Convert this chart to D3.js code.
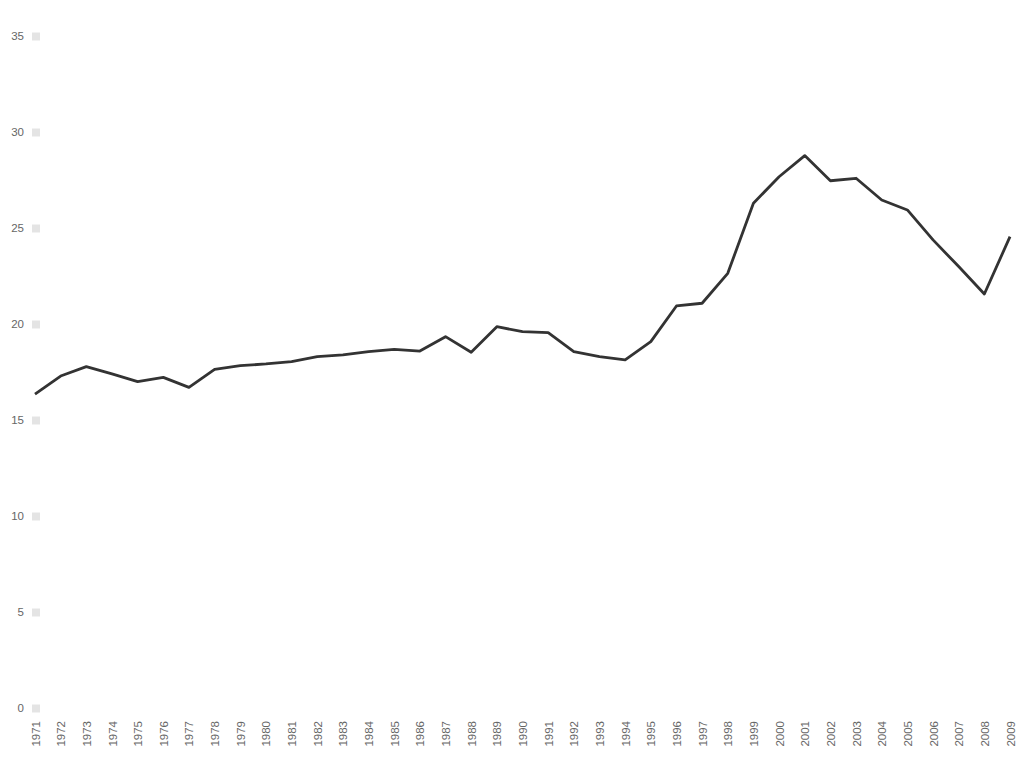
<!DOCTYPE html>
<html lang="en">
<head>
  <meta charset="UTF-8" />
  <title>Line chart 1971-2009</title>
  <script src="https://d3js.org/d3.v7.min.js"></script>
  <style>
    body {
      margin: 0;
      background: #fff;
      font-family: "Open Sans", sans-serif;
    }
    .axis text {
      fill: #666;
      font-size: 11.5px;
    }
    .axis path {
      display: none;
    }
  </style>
</head>
<body>

<svg id="chart" width="1024" height="768"></svg>

<script>
/* ---------------- DATA ---------------- */

const years = d3.range(1971, 2010);

const values = [
  16.35, 17.29, 17.78, 17.40, 17.00, 17.22, 16.70, 17.64, 17.83, 17.92,
  18.04, 18.30, 18.39, 18.56, 18.68, 18.59, 19.34, 18.53, 19.86, 19.60,
  19.55, 18.56, 18.30, 18.13, 19.08, 20.94, 21.08, 22.64, 26.29, 27.67,
  28.77, 27.46, 27.59, 26.46, 25.94, 24.38, 22.99, 21.56, 24.55
];

const yTicks = [0, 5, 10, 15, 20, 25, 30, 35];

const data = years.map((y, i) => ({ year: y, value: values[i] }));

/* ---------------- SCALES ---------------- */

const svg = d3.select("#chart");

const x = d3.scaleLinear()
  .domain([1971, 2009])
  .range([35, 1010]);

const y = d3.scaleLinear()
  .domain([0, 35])
  .range([708, 36]);

/* ---------------- AXES ---------------- */

const yAxis = svg.append("g")
  .attr("class", "axis")
  .attr("transform", "translate(40,0)")
  .call(d3.axisLeft(y).tickValues(yTicks).tickSize(8).tickPadding(8));

yAxis.selectAll(".tick line")
  .attr("stroke", "#e4e4e4")
  .attr("stroke-width", 8);

const xAxis = svg.append("g")
  .attr("class", "axis")
  .attr("transform", "translate(0,718)")
  .call(d3.axisBottom(x).tickValues(years).tickFormat(d3.format("d")).tickSize(0));

xAxis.selectAll(".tick text")
  .attr("transform", "rotate(-90)")
  .attr("text-anchor", "end")
  .attr("x", -3)
  .attr("y", 0)
  .attr("dy", "0.35em");

/* ---------------- LINE ---------------- */

svg.append("path")
  .datum(data)
  .attr("fill", "none")
  .attr("stroke", "#333")
  .attr("stroke-width", 2.8)
  .attr("stroke-linejoin", "round")
  .attr("d", d3.line().x(d => x(d.year)).y(d => y(d.value)));
</script>

</body>
</html>
